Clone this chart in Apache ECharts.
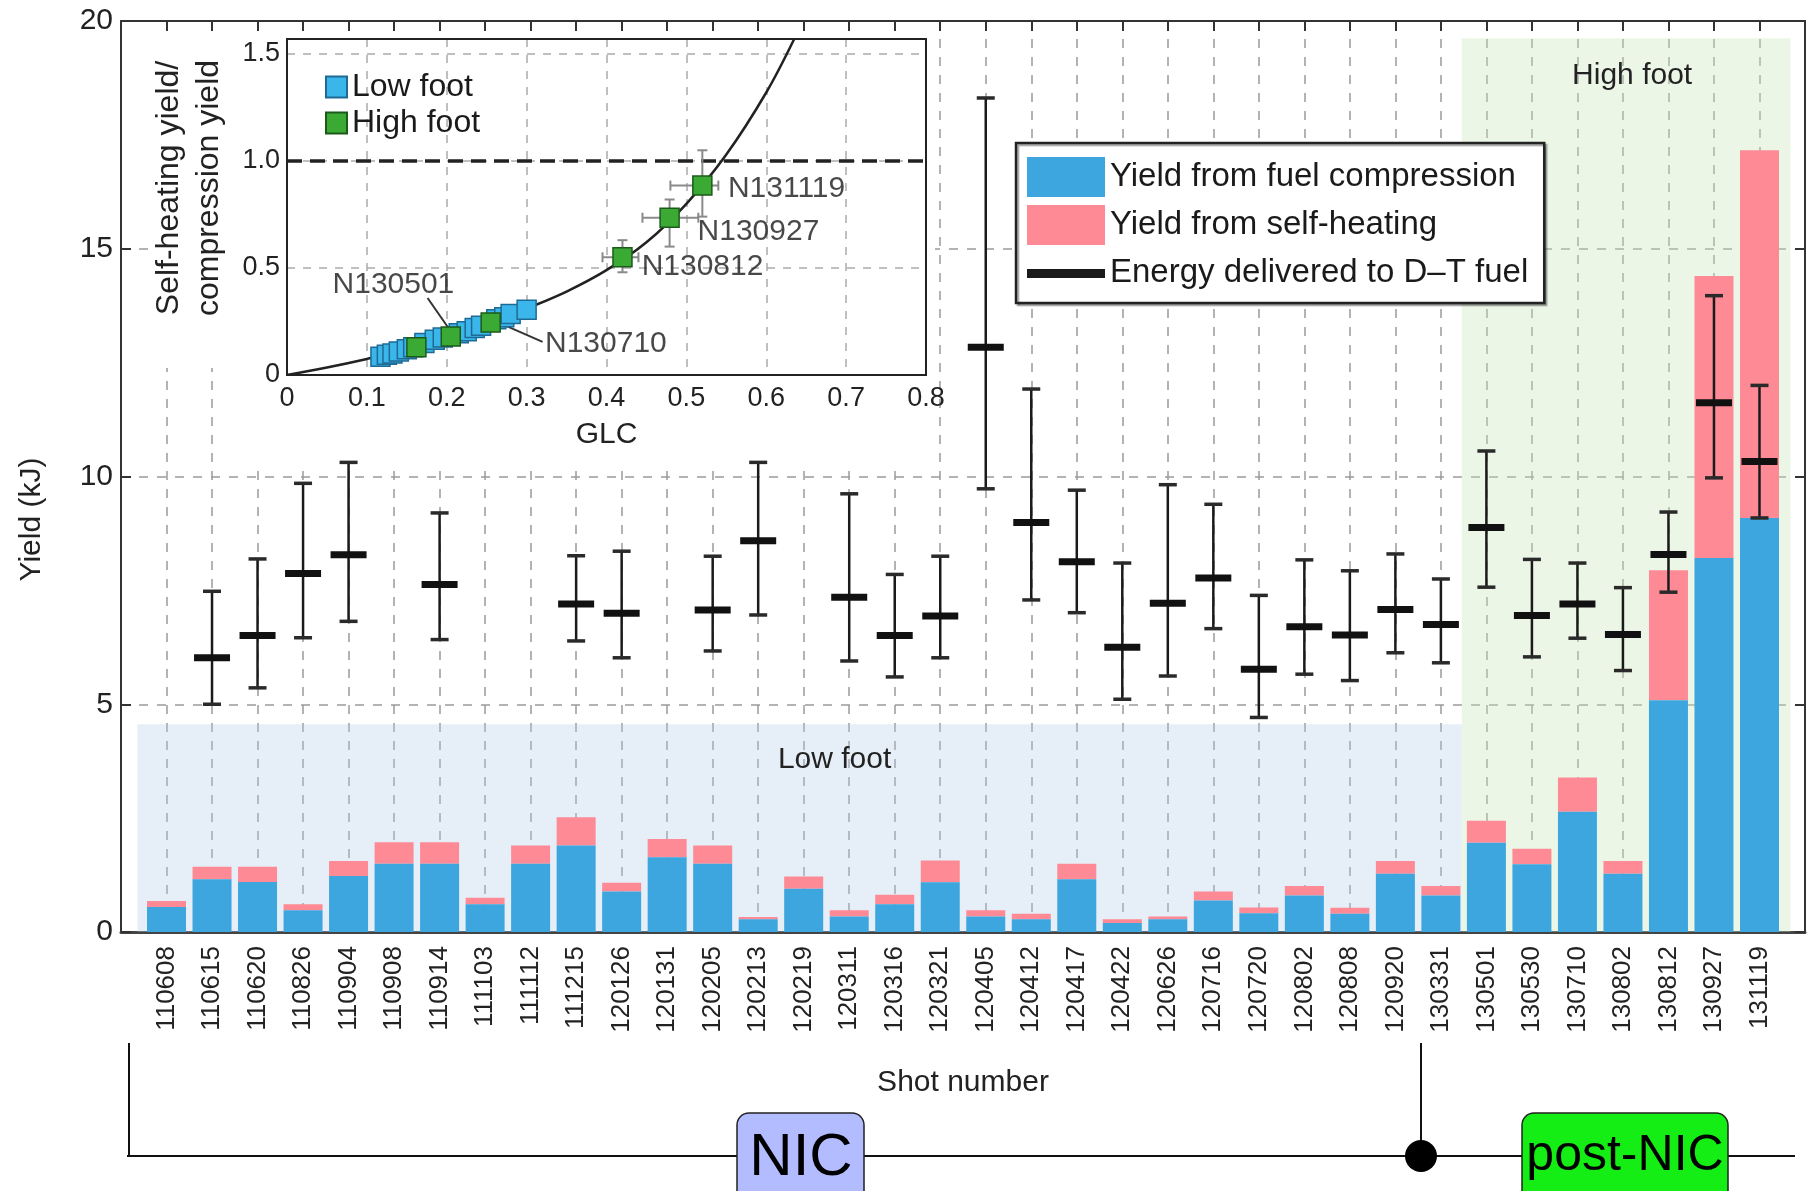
<!DOCTYPE html>
<html>
<head>
<meta charset="utf-8">
<script src="https://cdn.jsdelivr.net/npm/echarts@6/dist/echarts.min.js"></script>
<style>
html, body { margin: 0; padding: 0; background: #fff; }
#chart { width: 1809px; height: 1191px; }
</style>
</head>
<body>
<div id="chart"></div>
<script>
// shot numbers along the bottom
var shots = ['110608','110615','110620','110826','110904','110908','110914','111103','111112','111215',
  '120126','120131','120205','120213','120219','120311','120316','120321','120405','120412',
  '120417','120422','120626','120716','120720','120802','120808','120920','130331','130501',
  '130530','130710','130802','130812','130927','131119'];

// yield (kJ)
var compression = [0.55,1.16,1.10,0.48,1.23,1.50,1.50,0.61,1.50,1.90,
  0.89,1.64,1.50,0.28,0.95,0.34,0.61,1.09,0.34,0.28,
  1.16,0.20,0.28,0.69,0.41,0.80,0.40,1.28,0.80,1.96,
  1.49,2.64,1.28,5.09,8.21,9.09];
var selfHeating = [0.13,0.27,0.33,0.13,0.33,0.47,0.47,0.14,0.40,0.62,
  0.19,0.40,0.40,0.05,0.27,0.14,0.21,0.48,0.14,0.12,
  0.34,0.08,0.06,0.20,0.13,0.21,0.13,0.28,0.21,0.48,
  0.34,0.75,0.28,2.85,6.19,8.07];

// energy delivered to D-T fuel (kJ), null where no bar is drawn
var energy = [null,6.02,6.51,7.87,8.28,null,7.63,null,null,7.20,
  7.00,null,7.07,8.59,null,7.35,6.51,6.94,12.84,8.99,
  8.13,6.25,7.22,7.77,5.77,6.70,6.52,7.08,6.75,8.88,
  6.95,7.20,6.53,8.29,11.62,10.33];
var energyLow = [null,5.00,5.36,6.46,6.82,null,6.42,null,null,6.39,
  6.02,null,6.17,6.96,null,5.95,5.60,6.02,9.73,7.29,
  7.01,5.11,5.62,6.66,4.71,5.66,5.52,6.13,5.91,7.57,
  6.04,6.45,5.74,7.46,9.97,9.09];
var energyHigh = [null,7.48,8.19,9.85,10.31,null,9.20,null,null,8.26,
  8.36,null,8.25,10.31,null,9.62,7.85,8.25,18.31,11.92,
  9.70,8.10,9.82,9.39,7.39,8.17,7.93,8.30,7.75,10.56,
  8.18,8.10,7.56,9.22,13.97,12.00];

// inset: self-heating / compression yield vs GLC
var curveGLC   = [0, 0.05, 0.1, 0.15, 0.2, 0.25, 0.3, 0.35, 0.4, 0.45, 0.5, 0.55, 0.6, 0.635];
var curveRatio = [0, 0.035, 0.075, 0.12, 0.175, 0.235, 0.31, 0.39, 0.49, 0.62, 0.8, 1.03, 1.32, 1.57];
var lowFootGLC   = [0.117,0.125,0.132,0.14,0.15,0.158,0.172,0.185,0.195,0.215,0.225,0.235,0.243,0.262,0.272,0.28,0.30];
var lowFootRatio = [0.085,0.095,0.10,0.11,0.12,0.13,0.15,0.165,0.175,0.195,0.205,0.22,0.23,0.26,0.27,0.285,0.305];
var highFootGLC   = [0.162,0.205,0.255,0.42,0.479,0.52];
var highFootRatio = [0.13,0.18,0.245,0.55,0.735,0.885];
// error ranges for the three labelled high foot shots
var highFootErrGLC   = [0.42, 0.479, 0.52];
var highFootErrRatio = [0.55, 0.735, 0.885];
var highFootErrX = [[0.395, 0.44], [0.445, 0.515], [0.48, 0.54]];
var highFootErrY = [[0.48, 0.63], [0.60, 0.82], [0.74, 1.05]];
var shotLabels    = ['N131119','N130927','N130812','N130501','N130710'];
var shotLabelGLC   = [0.552, 0.514, 0.444, 0.057, 0.323];
var shotLabelRatio = [0.87, 0.668, 0.505, 0.42, 0.148];
var leaderGLC   = [[0.176, 0.203], [0.32, 0.265]];
var leaderRatio = [[0.36, 0.215], [0.155, 0.245]];

var FONT = 'Liberation Sans, Arial, Helvetica, sans-serif';
var BLUE = '#3DA6DE', PINK = '#FD8A94';
var GRIDLINE = { color: '#9a9a9a', type: [9, 9], width: 1.5 };

var chart = echarts.init(document.getElementById('chart'));

// self-heating part sits on top of the compression part
function heatBar(params, api) {
    var base = api.coord([api.value(0), api.value(1)]);
    var top = api.coord([api.value(0), api.value(1) + api.value(2)]);
    return {
        type: 'rect',
        shape: { x: base[0] - 19.5, y: top[1], width: 39, height: base[1] - top[1] },
        style: api.style()
    };
}

function errBar(params, api) {
    var p = api.coord([api.value(0), api.value(1)]);
    var lo = api.coord([api.value(0), api.value(2)]);
    var hi = api.coord([api.value(0), api.value(3)]);
    var x = p[0];
    return {
        type: 'group',
        children: [
            { type: 'line', shape: { x1: x, y1: lo[1], x2: x, y2: hi[1] }, style: { stroke: '#1a1a1a', lineWidth: 2.5 } },
            { type: 'line', shape: { x1: x - 9, y1: lo[1], x2: x + 9, y2: lo[1] }, style: { stroke: '#2a2a2a', lineWidth: 3.5 } },
            { type: 'line', shape: { x1: x - 9, y1: hi[1], x2: x + 9, y2: hi[1] }, style: { stroke: '#2a2a2a', lineWidth: 3.5 } },
            { type: 'line', shape: { x1: x - 18, y1: p[1], x2: x + 18, y2: p[1] }, style: { stroke: '#111', lineWidth: 7 } }
        ]
    };
}

function insetErr(params, api) {
    var x0 = api.coord([api.value(2), api.value(1)]);
    var x1 = api.coord([api.value(3), api.value(1)]);
    var y0 = api.coord([api.value(0), api.value(4)]);
    var y1 = api.coord([api.value(0), api.value(5)]);
    var st = { stroke: '#8a8a8a', lineWidth: 2 };
    return {
        type: 'group',
        children: [
            { type: 'line', shape: { x1: x0[0], y1: x0[1], x2: x1[0], y2: x1[1] }, style: st },
            { type: 'line', shape: { x1: x0[0], y1: x0[1] - 5, x2: x0[0], y2: x0[1] + 5 }, style: st },
            { type: 'line', shape: { x1: x1[0], y1: x1[1] - 5, x2: x1[0], y2: x1[1] + 5 }, style: st },
            { type: 'line', shape: { x1: y0[0], y1: y0[1], x2: y1[0], y2: y1[1] }, style: st },
            { type: 'line', shape: { x1: y0[0] - 5, y1: y0[1], x2: y0[0] + 5, y2: y0[1] }, style: st },
            { type: 'line', shape: { x1: y1[0] - 5, y1: y1[1], x2: y1[0] + 5, y2: y1[1] }, style: st }
        ]
    };
}

var errData = [];
for (var i = 0; i < shots.length; i++) {
    if (energy[i] != null) errData.push([i, energy[i], energyLow[i], energyHigh[i]]);
}
var insetErrData = highFootErrGLC.map(function (g, k) {
    return [g, highFootErrRatio[k], highFootErrX[k][0], highFootErrX[k][1], highFootErrY[k][0], highFootErrY[k][1]];
});

var leaderSeries = leaderGLC.map(function (g, k) {
    return {
        type: 'line', xAxisIndex: 2, yAxisIndex: 2, z: 6, silent: true,
        symbol: 'none', lineStyle: { color: '#333', width: 2 },
        data: [[g[0], leaderRatio[k][0]], [g[1], leaderRatio[k][1]]]
    };
});

var option = {
    animation: false,
    textStyle: { fontFamily: FONT },
    grid: [
        { left: 121, right: 4, top: 21, bottom: 259 },
        { left: 287, top: 39, width: 639, height: 336, show: true, borderColor: '#222', borderWidth: 2, backgroundColor: 'transparent', z: 4 }
    ],
    legend: [
        {
            left: 1016, top: 143, orient: 'vertical',
            itemWidth: 78, itemHeight: 40, itemGap: 8,
            padding: [14, 16, 10, 11],
            backgroundColor: '#fff', borderColor: '#222', borderWidth: 2.5,
            shadowColor: 'rgba(0,0,0,0.35)', shadowOffsetX: 2, shadowOffsetY: 2, shadowBlur: 1,
            textStyle: { fontSize: 33, color: '#1a1a1a', fontFamily: FONT },
            selectedMode: false,
            data: [
                { name: 'Yield from fuel compression', icon: 'rect' },
                { name: 'Yield from self-heating', icon: 'rect', itemStyle: { color: PINK } },
                { name: 'Energy delivered to D\u2013T fuel', icon: 'path://M0,0h0.01v0.01h-0.01zM0,16h78v9h-78zM78,40h-0.01v-0.01h0.01z', itemStyle: { color: '#1a1a1a' } }
            ]
        },
        {
            left: 320, top: 66, orient: 'vertical',
            itemWidth: 21, itemHeight: 21, itemGap: 4,
            textStyle: { fontSize: 32, color: '#1a1a1a', fontFamily: FONT },
            selectedMode: false, z: 8,
            data: [{ name: 'Low foot', icon: 'rect' }, { name: 'High foot', icon: 'rect' }]
        }
    ],
    xAxis: [
        {
            type: 'value', gridIndex: 0, position: 'bottom', min: -1, max: 36, interval: 1,
            axisLine: { onZero: false, lineStyle: { color: '#444', width: 3 } },
            axisTick: { show: false },
            axisLabel: {
                rotate: 90, fontSize: 26, color: '#222', margin: 14,
                formatter: function (v) {
                    var k = Math.round(v);
                    return (Math.abs(v - k) < 1e-6 && k >= 0 && k < shots.length) ? shots[k] : '';
                }
            },
            splitLine: { show: true, lineStyle: GRIDLINE },
            name: 'Shot number', nameLocation: 'middle', nameGap: 136,
            nameTextStyle: { fontSize: 30, color: '#222' }
        },
        {
            type: 'value', gridIndex: 0, position: 'top', min: -1, max: 36, interval: 1,
            axisLine: { show: true, onZero: false, lineStyle: { color: '#333', width: 2 } },
            axisTick: { show: true, inside: true, length: 10, lineStyle: { color: '#333', width: 2 } },
            axisLabel: { show: false }, splitLine: { show: false }
        },
        {
            type: 'value', gridIndex: 1, min: 0, max: 0.8, interval: 0.1, z: 3,
            axisLine: { onZero: false, lineStyle: { color: '#222', width: 2 } },
            axisTick: { show: false },
            axisLabel: {
                fontSize: 27, color: '#222', margin: 10,
                formatter: function (v) { return v === 0 ? '0' : v.toFixed(1); }
            },
            splitLine: { show: true, showMinLine: false, showMaxLine: false, lineStyle: { color: '#aaa', type: [8, 8], width: 1.5 } },
            name: 'GLC', nameLocation: 'middle', nameGap: 45,
            nameTextStyle: { fontSize: 30, color: '#222' }
        }
    ],
    yAxis: [
        {
            type: 'value', gridIndex: 0, min: 0, max: 20, interval: 5,
            axisLine: { show: true, onZero: false, lineStyle: { color: '#333', width: 2 } },
            axisTick: { show: true, inside: true, length: 10, lineStyle: { color: '#333', width: 2 } },
            axisLabel: { fontSize: 30, color: '#222', margin: 8 },
            splitLine: { show: true, lineStyle: GRIDLINE },
            name: 'Yield (kJ)', nameLocation: 'middle', nameRotate: 90, nameGap: 74,
            nameTextStyle: { fontSize: 30, color: '#222', padding: [0, 86, 0, 0] }
        },
        {
            type: 'value', gridIndex: 0, position: 'right', min: 0, max: 20, interval: 5,
            axisLine: { show: true, onZero: false, lineStyle: { color: '#333', width: 2 } },
            axisTick: { show: true, inside: true, length: 10, lineStyle: { color: '#333', width: 2 } },
            axisLabel: { show: false }, splitLine: { show: false }
        },
        {
            type: 'value', gridIndex: 1, min: 0, max: 1.57, interval: 0.5, z: 3,
            axisLine: { onZero: false, lineStyle: { color: '#222', width: 2 } },
            axisTick: { show: false },
            axisLabel: {
                fontSize: 27, color: '#222', margin: 7, showMaxLabel: false,
                formatter: function (v) {
                    if (Math.abs(v * 2 - Math.round(v * 2)) > 1e-6) return '';
                    return v === 0 ? '0' : v.toFixed(1);
                }
            },
            splitLine: { show: true, showMinLine: false, showMaxLine: false, lineStyle: { color: '#aaa', type: [8, 8], width: 1.5 } },
            name: 'Self-heating yield/\ncompression yield', nameLocation: 'middle', nameRotate: 90, nameGap: 58,
            nameTextStyle: { fontSize: 32, lineHeight: 40, color: '#222', padding: [0, 0, 0, 38] }
        }
    ],
    graphic: [
        // white panel behind the inset
        { type: 'polygon', z: 1, silent: true,
          shape: { points: [[150, 33], [935, 33], [935, 465], [245, 465], [245, 368], [150, 368]] },
          style: { fill: '#fff' } },
        // NIC / post-NIC timeline
        { type: 'line', shape: { x1: 127, y1: 1156, x2: 1795, y2: 1156 }, style: { stroke: '#111', lineWidth: 2 } },
        { type: 'line', shape: { x1: 129, y1: 1043, x2: 129, y2: 1156 }, style: { stroke: '#111', lineWidth: 2 } },
        { type: 'line', shape: { x1: 1421, y1: 1043, x2: 1421, y2: 1156 }, style: { stroke: '#111', lineWidth: 2 } },
        { type: 'circle', shape: { cx: 1421, cy: 1156, r: 16 }, style: { fill: '#000' } },
        { type: 'rect', shape: { x: 737, y: 1113, width: 127, height: 100, r: 12 }, style: { fill: '#b3bcff', stroke: '#222', lineWidth: 1.5 } },
        { type: 'text', x: 801, y: 1158, style: { text: 'NIC', fontSize: 60, fontFamily: FONT, fill: '#000', align: 'center', verticalAlign: 'middle', textAlign: 'center', textVerticalAlign: 'middle' } },
        { type: 'rect', shape: { x: 1522, y: 1113, width: 206, height: 100, r: 12 }, style: { fill: '#14ee14', stroke: '#222', lineWidth: 1.5 } },
        { type: 'text', x: 1625, y: 1156, style: { text: 'post-NIC', fontSize: 50, fontFamily: FONT, fill: '#000', align: 'center', verticalAlign: 'middle', textAlign: 'center', textVerticalAlign: 'middle' } }
    ],
    series: [
        {
            name: 'Yield from fuel compression', type: 'bar', barWidth: 39,
            xAxisIndex: 0, yAxisIndex: 0,
            itemStyle: { color: BLUE },
            data: compression.map(function (v, k) { return [k, v]; }),
            markArea: {
                silent: true,
                data: [
                    [{ name: 'Low foot', xAxis: -0.64, yAxis: 0,
                       itemStyle: { color: 'rgba(180,205,232,0.33)' },
                       label: { show: true, position: 'insideTop', distance: 20, offset: [35, 0], fontSize: 30, color: '#222' } },
                     { xAxis: 28.46, yAxis: 4.56 }],
                    [{ name: 'High foot', xAxis: 28.46, yAxis: 0,
                       itemStyle: { color: 'rgba(200,228,185,0.35)' },
                       label: { show: true, position: 'insideTop', distance: 22, offset: [6, 0], fontSize: 30, color: '#222' } },
                     { xAxis: 35.68, yAxis: 19.62 }]
                ]
            }
        },
        {
            name: 'Yield from self-heating', type: 'custom', z: 2,
            xAxisIndex: 0, yAxisIndex: 0,
            itemStyle: { color: PINK },
            renderItem: heatBar,
            encode: { x: 0, y: [1, 2] },
            data: selfHeating.map(function (v, k) { return [k, compression[k], v]; })
        },
        {
            name: 'Energy delivered to D\u2013T fuel', type: 'custom', z: 3,
            xAxisIndex: 0, yAxisIndex: 0,
            itemStyle: { color: '#1a1a1a' },
            renderItem: errBar,
            encode: { x: 0, y: [1, 2, 3] },
            data: errData
        },
        {
            type: 'line', xAxisIndex: 2, yAxisIndex: 2, z: 5, silent: true,
            symbol: 'none', smooth: 0.35,
            lineStyle: { color: '#222', width: 2.5 },
            data: curveGLC.map(function (g, k) { return [g, curveRatio[k]]; }),
            markLine: {
                silent: true, symbol: 'none', label: { show: false },
                lineStyle: { color: '#222', type: [15, 8], width: 3.5 },
                data: [{ yAxis: 1.0 }]
            }
        },
        {
            type: 'custom', xAxisIndex: 2, yAxisIndex: 2, z: 5, silent: true,
            renderItem: insetErr,
            encode: { x: [0, 2, 3], y: [1, 4, 5] },
            data: insetErrData
        }
    ].concat(leaderSeries).concat([
        {
            name: 'Low foot', type: 'scatter', xAxisIndex: 2, yAxisIndex: 2, z: 7,
            symbol: 'rect', symbolSize: 19,
            itemStyle: { color: '#3BB6EA', borderColor: '#1f6a94', borderWidth: 1.5, opacity: 1 },
            data: lowFootGLC.map(function (g, k) { return [g, lowFootRatio[k]]; })
        },
        {
            name: 'High foot', type: 'scatter', xAxisIndex: 2, yAxisIndex: 2, z: 8,
            symbol: 'rect', symbolSize: 19,
            itemStyle: { color: '#3AAA35', borderColor: '#1c5a19', borderWidth: 1.5, opacity: 1 },
            data: highFootGLC.map(function (g, k) { return [g, highFootRatio[k]]; })
        },
        {
            type: 'scatter', xAxisIndex: 2, yAxisIndex: 2, z: 8, silent: true,
            symbolSize: 0,
            label: { show: true, position: 'right', distance: 0, formatter: '{b}', fontSize: 30, color: '#1a1a1a' },
            data: shotLabels.map(function (s, k) { return { name: s, value: [shotLabelGLC[k], shotLabelRatio[k]] }; })
        }
    ])
};

chart.setOption(option);
</script>
</body>
</html>
